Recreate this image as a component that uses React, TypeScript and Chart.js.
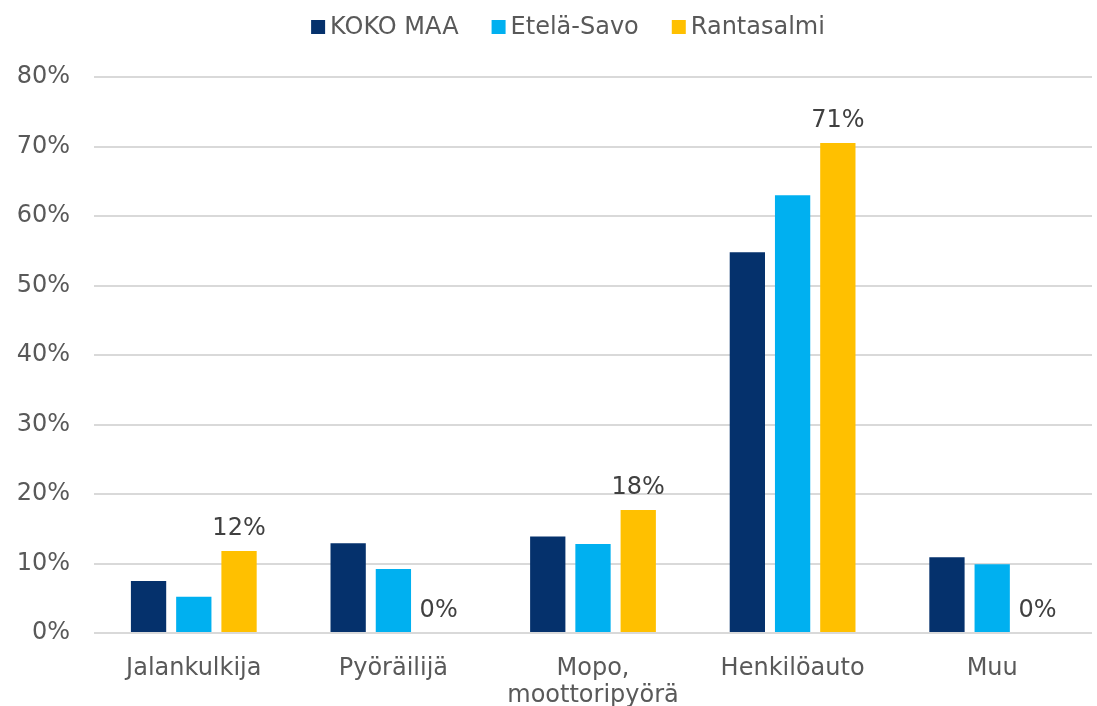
import React, { useEffect, useRef } from "react";
import { Chart, registerables } from "chart.js";

Chart.register(...registerables);

const categories: (string | string[])[] = [
  "Jalankulkija",
  "Pyöräilijä",
  ["Mopo,", "moottoripyörä"],
  "Henkilöauto",
  "Muu",
];
const seriesNames = ["KOKO MAA", "Etelä-Savo", "Rantasalmi"];
const seriesColors = ["#05316c", "#00b0f0", "#ffc000"];
const kokoMaa = [7.5, 12.9, 13.9, 54.8, 10.9];
const etelaSavo = [5.2, 9.2, 12.8, 63.0, 9.9];
const rantasalmi = [11.8, 0, 17.7, 70.5, 0];
const yTicks = [0, 10, 20, 30, 40, 50, 60, 70, 80];

const FONT = "'DejaVu Sans', Verdana, sans-serif";

const labelPlugin = {
  id: "rantaLabels",
  afterDatasetsDraw(chart: any) {
    const ctx = chart.ctx;
    const meta = chart.getDatasetMeta(2);
    ctx.save();
    ctx.font = `24px ${FONT}`;
    ctx.fillStyle = "#404040";
    ctx.textAlign = "center";
    ctx.textBaseline = "alphabetic";
    meta.data.forEach((bar: any, i: number) => {
      const v = rantasalmi[i];
      ctx.fillText(Math.round(v) + "%", bar.x, bar.y - 16);
    });
    ctx.restore();
  },
};

const legendPlugin = {
  id: "customLegend",
  afterDraw(chart: any) {
    const ctx = chart.ctx;
    ctx.save();
    ctx.font = `24px ${FONT}`;
    const box = 14;
    const gapText = 5;
    const gapItem = 33;
    const widths = seriesNames.map((n) => box + gapText + ctx.measureText(n).width);
    const total = widths.reduce((a, b) => a + b, 0) + gapItem * (seriesNames.length - 1);
    let x = 568 - total / 2;
    const cy = 27;
    seriesNames.forEach((n, i) => {
      ctx.fillStyle = seriesColors[i];
      ctx.fillRect(x, cy - box / 2, box, box);
      ctx.fillStyle = "#595959";
      ctx.textAlign = "left";
      ctx.textBaseline = "middle";
      ctx.fillText(n, x + box + gapText, cy + 1);
      x += widths[i] + gapItem;
    });
    ctx.restore();
  },
};

export default function App() {
  const ref = useRef<HTMLCanvasElement>(null);
  useEffect(() => {
    document.body.style.margin = "0";
    const chart = new Chart(ref.current!, {
      type: "bar",
      data: {
        labels: categories,
        datasets: [
          { label: seriesNames[0], data: kokoMaa, backgroundColor: seriesColors[0] },
          { label: seriesNames[1], data: etelaSavo, backgroundColor: seriesColors[1] },
          { label: seriesNames[2], data: rantasalmi, backgroundColor: seriesColors[2] },
        ],
      },
      options: {
        animation: false,
        responsive: false,
        maintainAspectRatio: false,
        layout: { padding: { left: 0, right: 5, top: 77, bottom: 0 } },
        datasets: { bar: { categoryPercentage: 0.68, barPercentage: 0.78 } },
        plugins: {
          legend: { display: false },
          tooltip: { enabled: false },
        },
        scales: {
          x: {
            grid: { display: false, drawTicks: false },
            border: { display: false },
            afterFit: (axis: any) => {
              axis.height = 73;
            },
            ticks: {
              font: { family: FONT, size: 24, lineHeight: 1.12 },
              color: "#595959",
              padding: 22,
              maxRotation: 0,
            },
          },
          y: {
            min: 0,
            max: 80,
            afterBuildTicks: (axis: any) => {
              axis.ticks = yTicks.map((v) => ({ value: v }));
            },
            afterFit: (axis: any) => {
              axis.width = 94;
            },
            grid: { color: "#d9d9d9", lineWidth: 2, drawTicks: false },
            border: { display: false },
            ticks: {
              font: { family: FONT, size: 24 },
              color: "#595959",
              padding: 24,
              callback: (v: any) => v + "%",
            },
          },
        },
      },
      plugins: [labelPlugin, legendPlugin],
    });
    return () => chart.destroy();
  }, []);
  return <canvas ref={ref} width={1097} height={706} style={{ display: "block" }} />;
}
